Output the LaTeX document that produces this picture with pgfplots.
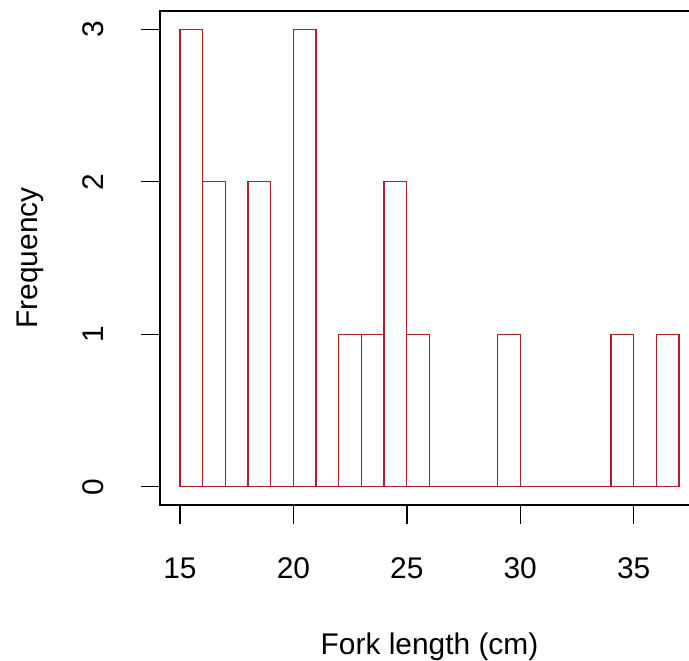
\documentclass[border=0pt]{standalone}
\usepackage{fontspec}
\setmainfont{Liberation Sans}
\usepackage{pgfplots}
\pgfplotsset{compat=1.18}
\definecolor{histred}{RGB}{175,30,40}

\begin{document}
\begin{tikzpicture}
% page = 689 x 661 px at 0.5bp per px; the R box runs past the right edge
\useasboundingbox (0,0) rectangle (344.5bp,330.5bp);
\begin{axis}[
 at={(80bp,78bp)},anchor=south west,
 scale only axis,width=269.5bp,height=247bp,
 xmin=14.12,xmax=37.88,ymin=-0.12,ymax=3.12,
 xtick={15,20,25,30,35},ytick={0,1,2,3},
 xtick pos=bottom,ytick pos=left,
 tick align=outside,major tick length=9.5bp,
 tick style={black,line width=0.7bp},
 axis line style={line width=0.7bp},
 /pgf/number format/assume math mode=true,
 tick label style={font=\fontsize{15}{18}\selectfont},
 x tick label style={anchor=center,yshift=-22bp},
 y tick label style={rotate=90,anchor=center,yshift=24bp},
 xlabel={Fork length (cm)},ylabel={Frequency},
 label style={font=\fontsize{15}{18}\selectfont},
 xlabel style={at={(axis description cs:0.5,0)},anchor=center,yshift=-71bp},
 ylabel style={at={(axis description cs:0,0.5)},anchor=center,yshift=65bp},
]
\addplot[ybar interval,draw=histred,fill=none,line width=0.65bp] coordinates {
 (15,3) (16,2) (17,0) (18,2) (19,0) (20,3) (21,0) (22,1) (23,1) (24,2)
 (25,1) (26,0) (27,0) (28,0) (29,1) (30,0) (31,0) (32,0) (33,0) (34,1)
 (35,0) (36,1) (37,0)};
\end{axis}
\end{tikzpicture}
\end{document}
